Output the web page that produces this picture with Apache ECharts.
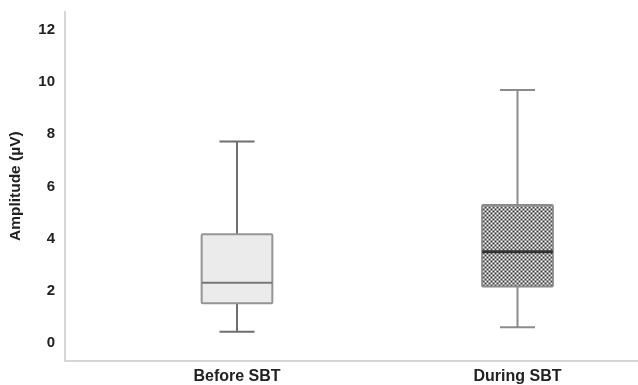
<!DOCTYPE html>
<html>
<head>
<meta charset="utf-8">
<script src="https://cdn.jsdelivr.net/npm/echarts@6/dist/echarts.min.js"></script>
<style>
html,body{margin:0;padding:0;background:#fff;}
#chart{width:638px;height:385px;}
</style>
</head>
<body>
<div id="chart"></div>
<script>
// Data
var categories = ['Before SBT', 'During SBT'];
var whiskerLow = [0.43, 0.60];
var q1 = [1.52, 2.16];
var medians = [2.31, 3.50];
var q3 = [4.17, 5.29];
var whiskerHigh = [7.72, 9.70];
var yTickLabels = [0, 2, 4, 6, 8, 10, 12];
var yName = 'Amplitude (\u00b5V)';

// pattern for second box
var pc = document.createElement('canvas');
pc.width = 4; pc.height = 4;
var px = pc.getContext('2d');
px.fillStyle = '#9a9a9a'; px.fillRect(0, 0, 4, 4);
px.fillStyle = '#ffffff'; px.fillRect(1, 1, 1, 1); px.fillRect(3, 3, 1, 1);
px.fillStyle = '#3c3c3c'; px.fillRect(3, 1, 1, 1); px.fillRect(1, 3, 1, 1);

var boxStyles = [
  {fill: '#ebebeb', stroke: '#959595', whisker: '#6e6e6e', median: '#777777', medianW: 2},
  {fill: {image: pc, repeat: 'repeat'}, stroke: '#8a8a8a', whisker: '#8c8c8c', median: '#333333', medianW: 3}
];

var seriesData = categories.map(function (c, i) {
  return [i, whiskerLow[i], q1[i], medians[i], q3[i], whiskerHigh[i]];
});

var yMin = -0.68, yMax = 12.7;
var font = 'Liberation Sans, Arial, Helvetica, sans-serif';

var chart = echarts.init(document.getElementById('chart'), null, {renderer: 'canvas'});
chart.setOption({
  animation: false,
  backgroundColor: '#ffffff',
  grid: [
    {left: 96.75, width: 561, top: 11.7, bottom: 24.3, containLabel: false, outerBoundsMode: 'none'},
    {left: 65, right: 0, top: 11.7, bottom: 24.3, containLabel: false, outerBoundsMode: 'none'}
  ],
  xAxis: [
    {
      gridIndex: 0, type: 'category', data: categories,
      axisLine: {show: false}, axisTick: {show: false},
      axisLabel: {margin: 8, color: '#222', fontWeight: 'bold', fontSize: 16, fontFamily: font},
      splitLine: {show: false}
    },
    {
      gridIndex: 1, type: 'value', min: 0, max: 1,
      axisLine: {show: true, onZero: false, lineStyle: {color: '#d6d6d6', width: 2}},
      axisTick: {show: false}, axisLabel: {show: false}, splitLine: {show: false}
    }
  ],
  yAxis: [
    {gridIndex: 0, type: 'value', min: yMin, max: yMax, show: false},
    {
      gridIndex: 1, type: 'value', min: yMin, max: yMax,
      axisLine: {show: true, onZero: false, lineStyle: {color: '#d6d6d6', width: 2}},
      axisTick: {show: false},
      splitLine: {show: false},
      axisLabel: {customValues: yTickLabels, margin: 10, color: '#222', fontWeight: 'bold', fontSize: 15, fontFamily: font},
      name: yName, nameLocation: 'middle', nameGap: 41,
      nameTextStyle: {color: '#222', fontWeight: 'bold', fontSize: 15.5, fontFamily: font}
    }
  ],
  series: [{
    type: 'custom',
    xAxisIndex: 0, yAxisIndex: 0,
    data: seriesData,
    renderItem: function (params, api) {
      var i = api.value(0);
      var band = api.size([1, 0])[0];
      var bw = band * 0.252, cw = band * 0.125;
      var pLow = api.coord([i, api.value(1)]);
      var pQ1 = api.coord([i, api.value(2)]);
      var pMed = api.coord([i, api.value(3)]);
      var pQ3 = api.coord([i, api.value(4)]);
      var pHigh = api.coord([i, api.value(5)]);
      var cx = pLow[0];
      var s = boxStyles[i];
      var wl = {stroke: s.whisker, lineWidth: 2};
      return {
        type: 'group',
        children: [
          {type: 'line', shape: {x1: cx, y1: pHigh[1], x2: cx, y2: pQ3[1]}, style: wl},
          {type: 'line', shape: {x1: cx, y1: pQ1[1], x2: cx, y2: pLow[1]}, style: wl},
          {type: 'line', shape: {x1: cx - cw / 2, y1: pHigh[1], x2: cx + cw / 2, y2: pHigh[1]}, style: wl},
          {type: 'line', shape: {x1: cx - cw / 2, y1: pLow[1], x2: cx + cw / 2, y2: pLow[1]}, style: wl},
          {type: 'rect', shape: {x: cx - bw / 2, y: pQ3[1], width: bw, height: pQ1[1] - pQ3[1], r: 1},
            style: {fill: s.fill, stroke: s.stroke, lineWidth: 2}},
          {type: 'line', shape: {x1: cx - bw / 2, y1: pMed[1], x2: cx + bw / 2, y2: pMed[1]},
            style: {stroke: s.median, lineWidth: s.medianW}}
        ]
      };
    }
  }]
});
</script>
</body>
</html>
